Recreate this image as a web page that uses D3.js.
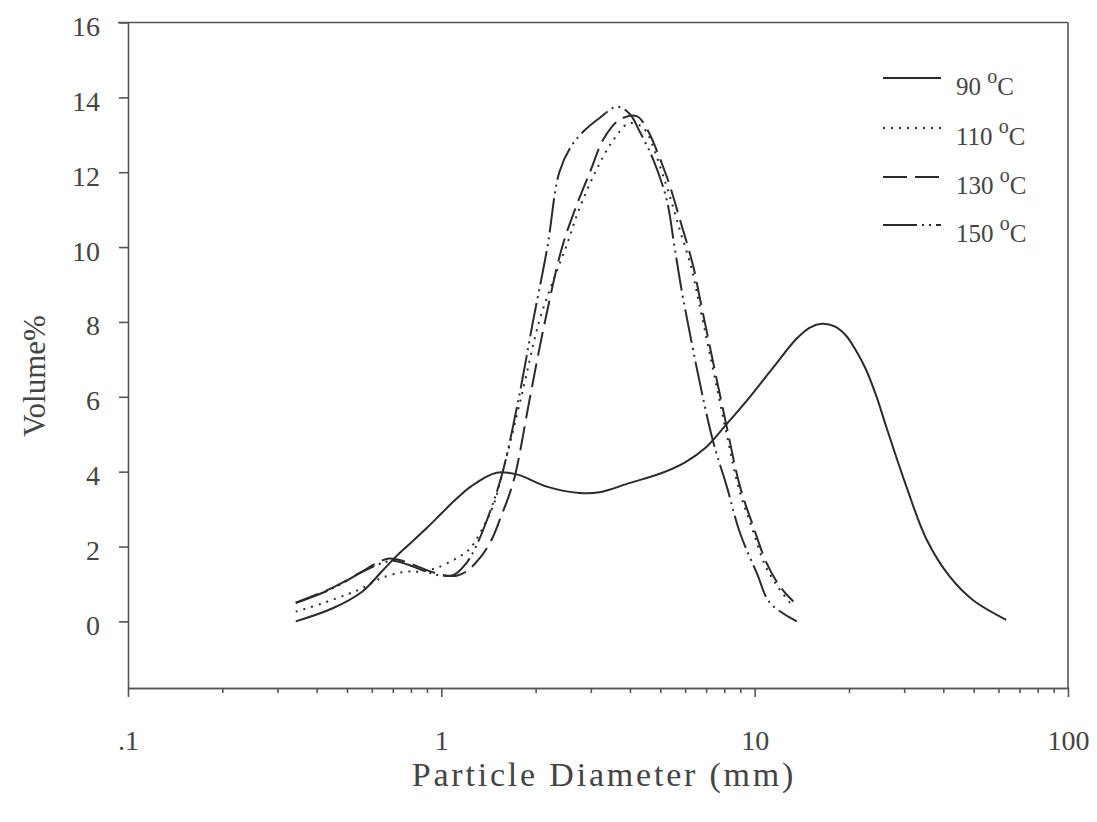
<!DOCTYPE html>
<html>
<head>
<meta charset="utf-8">
<script src="https://cdn.jsdelivr.net/npm/d3@7"></script>
<style>
  html, body { margin: 0; padding: 0; background: #fff; }
  svg { display: block; }
  text { font-family: "Liberation Serif", "Times New Roman", serif; fill: #444; }
</style>
</head>
<body>
<svg id="chart" width="1097" height="822"></svg>
<script>
// ---------------- data ----------------
const seriesNames = ["90", "110", "130", "150"];

const diam90 = [0.343,0.45,0.56,0.64,0.72,0.8,0.9,1.0,1.1,1.25,1.5,1.75,2.17,2.76,3.2,4.0,5.0,6.0,7.0,8.1,9.66,11.5,13.6,15.0,16.4,18.0,19.5,21.0,22.6,24.5,26.3,30.5,35.4,41.9,49.7,63.5];
const vol90  = [0,0.35,0.8,1.3,1.75,2.1,2.5,2.88,3.22,3.62,3.97,3.92,3.6,3.43,3.45,3.7,3.95,4.25,4.65,5.25,6.0,6.8,7.55,7.85,7.95,7.88,7.65,7.25,6.75,6.0,5.2,3.6,2.18,1.2,0.57,0.04];

const diam110 = [0.343,0.42,0.5,0.56,0.64,0.77,0.85,0.96,1.12,1.2,1.25,1.45,1.57,1.8,2.05,2.25,2.5,2.75,3.1,3.5,3.95,4.3,4.5,5.2,5.75,6.3,6.65,8.05,8.9,9.8,10.8,11.9,13.14];
const vol110  = [0.26,0.49,0.72,0.89,1.15,1.33,1.33,1.42,1.69,1.85,2.0,3.0,4.0,6.0,8.0,9.0,10.0,11.0,12.0,12.8,13.3,13.25,13.1,11.7,10.5,9.4,8.5,5.2,3.55,2.5,1.5,0.9,0.44];

const diam130 = [0.343,0.45,0.55,0.62,0.68,0.75,0.85,0.95,1.05,1.12,1.2,1.33,1.45,1.55,1.65,1.73,1.92,2.14,2.43,2.67,2.98,3.3,3.7,4.2,4.5,5.24,5.78,6.37,6.7,8.1,8.98,9.9,10.93,12.05,13.29];
const vol130  = [0.5,0.9,1.3,1.55,1.68,1.62,1.45,1.3,1.22,1.22,1.33,1.7,2.2,2.8,3.4,4.0,6.0,8.0,10.0,11.0,12.0,12.9,13.4,13.5,13.2,11.88,10.72,9.48,8.59,5.29,3.6,2.53,1.55,0.93,0.53];

const diam150 = [0.343,0.45,0.55,0.62,0.7,0.78,0.88,1.0,1.1,1.2,1.29,1.44,1.57,1.77,1.96,2.18,2.38,2.6,2.85,3.2,3.64,4.0,4.3,4.75,5.24,5.55,5.92,7.3,8.15,8.98,10.16,11.2,13.63];
const vol150  = [0.49,0.88,1.29,1.5,1.62,1.52,1.35,1.22,1.25,1.55,2.0,3.0,4.0,6.0,8.0,10.0,12.0,12.7,13.1,13.45,13.75,13.55,13.08,12.33,11.26,10.0,8.6,4.94,3.6,2.36,1.29,0.49,0.0];

const yTicks = [0,2,4,6,8,10,12,14,16];
const xMajorTicks = [0.1,1,10,100];
const xMajorLabels = [".1","1","10","100"];

// ---------------- layout ----------------
const svg = d3.select("#chart");
const pLeft = 128, pRight = 1068, pTop = 22.5, pBottom = 688;
const x = d3.scaleLog().domain([0.1, 100]).range([pLeft, pRight]);
const y = d3.scaleLinear().domain([-1.78, 16]).range([pBottom, pTop]);

const axisColor = "#555";

// y axis
const yAxis = svg.append("g").attr("transform", `translate(${pLeft},0)`)
  .call(d3.axisLeft(y).tickValues(yTicks).tickSize(9).tickSizeOuter(0).tickPadding(19));
yAxis.selectAll("path,line").attr("stroke", axisColor).attr("stroke-width", 1.6);
yAxis.selectAll("text").attr("font-size", 28).attr("dy", 13).attr("fill", "#444")
  .style("font-family", '"Liberation Serif", serif');

// x axis: minor ticks
const minorTicks = [];
[0.1, 1, 10].forEach(b => { for (let k = 2; k <= 9; k++) minorTicks.push(+(b * k).toPrecision(3)); });
const xMinor = svg.append("g").attr("transform", `translate(0,${pBottom})`)
  .call(d3.axisBottom(x).tickValues(minorTicks).tickSize(5).tickSizeOuter(0).tickFormat(""));
xMinor.selectAll("path,line").attr("stroke", axisColor).attr("stroke-width", 1.6);

const xMajor = svg.append("g").attr("transform", `translate(0,${pBottom})`)
  .call(d3.axisBottom(x).tickValues(xMajorTicks).tickSize(9).tickSizeOuter(0).tickPadding(33)
    .tickFormat((d, i) => xMajorLabels[i]));
xMajor.selectAll("path,line").attr("stroke", axisColor).attr("stroke-width", 1.6);
xMajor.selectAll("text").attr("font-size", 28).attr("fill", "#444")
  .style("font-family", '"Liberation Serif", serif');

// frame: top and right
svg.append("line").attr("x1", pLeft - 10).attr("x2", pRight).attr("y1", y(16)).attr("y2", y(16))
  .attr("stroke", axisColor).attr("stroke-width", 1.6);
svg.append("line").attr("x1", pRight).attr("x2", pRight).attr("y1", y(16)).attr("y2", pBottom)
  .attr("stroke", axisColor).attr("stroke-width", 1.6);

// axis titles
svg.append("text").attr("x", 604).attr("y", 786).attr("text-anchor", "middle")
  .attr("font-size", 34).attr("letter-spacing", 2.8).text("Particle Diameter (mm)");
svg.append("text").attr("transform", "translate(45,376) rotate(-90)").attr("text-anchor", "middle")
  .attr("font-size", 31).text("Volume%");

// ---------------- series ----------------
const series = [
  { name: seriesNames[0], xs: diam90,  ys: vol90,  dash: null },
  { name: seriesNames[1], xs: diam110, ys: vol110, dash: "2,6" },
  { name: seriesNames[2], xs: diam130, ys: vol130, dash: "24,8" },
  { name: seriesNames[3], xs: diam150, ys: vol150, dash: "34,5,2,5,2,5" }
];

const line = d3.line().x(d => x(d[0])).y(d => y(d[1])).curve(d3.curveCatmullRom.alpha(0.5));
const lineColor = "#2b2b2b";

series.forEach(s => {
  const pts = s.xs.map((v, i) => [v, s.ys[i]]);
  svg.append("path").datum(pts).attr("d", line)
    .attr("fill", "none").attr("stroke", lineColor).attr("stroke-width", 2)
    .attr("stroke-dasharray", s.dash);
});

// ---------------- legend ----------------
const legendRows = [78, 128, 177, 225];
const lg = svg.append("g");
series.forEach((s, i) => {
  const ry = legendRows[i];
  lg.append("line").attr("x1", 883).attr("x2", 941).attr("y1", ry).attr("y2", ry)
    .attr("stroke", lineColor).attr("stroke-width", 2).attr("stroke-dasharray", s.dash);
  const t = lg.append("text").attr("x", 956).attr("y", ry + 17).attr("font-size", 25);
  t.append("tspan").text(s.name + " ");
  t.append("tspan").attr("font-size", 20).attr("dy", -12).text("o");
  t.append("tspan").attr("dy", 12).text("C");
});
</script>
</body>
</html>
